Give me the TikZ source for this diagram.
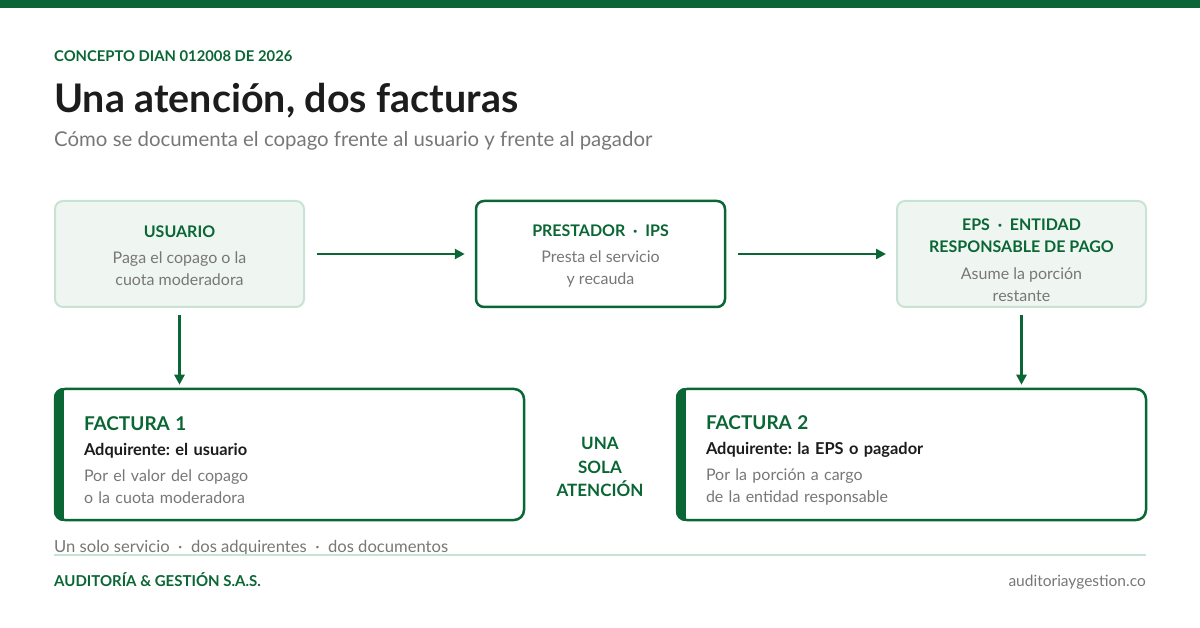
\documentclass[tikz,border=0pt]{standalone}
\usepackage{fontspec}
\setmainfont{Lato}
\usetikzlibrary{positioning, arrows.meta, calc}
\definecolor{verde}{HTML}{0A6634}
\definecolor{gris}{HTML}{777777}
\definecolor{menta}{HTML}{EFF6F2}
\definecolor{bordemint}{HTML}{C8E3D3}
\definecolor{tinta}{HTML}{1C1C1C}
\frenchspacing

\begin{document}
\begin{tikzpicture}[x=1pt, y=-1pt,
      actor/.style={draw=bordemint, line width=2pt, rounded corners=8pt,
        fill=menta, text=gris, align=center, inner sep=0pt,
        font=\fontsize{16}{22}\selectfont,
        minimum width=249pt, minimum height=106pt},
      prestador/.style={actor, draw=verde, line width=2.5pt, fill=white},
      factura/.style={draw=verde, line width=2.5pt, rounded corners=10pt,
        fill=white, text=gris, align=left, inner xsep=29pt, inner ysep=0pt,
        font=\fontsize{16}{22}\selectfont, text width=411pt,
        minimum width=469pt, minimum height=131pt},
      cabeza/.style={font=\fontsize{16}{22}\selectfont\bfseries, text=verde},
      flecha/.style={-{Triangle[length=10pt, width=10pt]}, verde, line width=2.5pt}]
    \useasboundingbox (0,0) rectangle (1200,628);
    \fill[verde] (0,0) rectangle (1200,8);

    % encabezado
    \node[anchor=base west, inner sep=0pt, cabeza,
      font=\fontsize{14.8}{20}\selectfont\bfseries] (concepto) at (54,62)
      {CONCEPTO DIAN 012008 DE 2026};
    \node[anchor=base west, inner sep=0pt, text=tinta,
      font=\fontsize{39.4}{44}\selectfont\bfseries] (titulo) at (54,113)
      {Una atención, dos facturas};
    \node[anchor=base west, inner sep=0pt, text=gris,
      font=\fontsize{20.4}{24}\selectfont] (subtitulo) at (54,147)
      {Cómo se documenta el copago frente al usuario y frente al pagador};

    % actores
    \node[actor] (usuario) at (179.5,254)
      {\rule{0pt}{16pt}\textbf{\color{verde}USUARIO}\\[4pt]Paga el copago o la\\cuota moderadora};
    \node[prestador] (ips) at (600.5,254)
      {\rule{0pt}{16pt}\textbf{\color{verde}PRESTADOR\ \ ·\ \ IPS}\\[4pt]Presta el servicio\\y recauda};
    \node[actor] (eps) at (1021.5,254)
      {\rule{0pt}{24pt}\textbf{\color{verde}EPS\ \ ·\ \ ENTIDAD}\\\textbf{\color{verde}RESPONSABLE DE PAGO}\\[5pt]Asume la porción\\restante};

    % facturas
    \node[factura] (f1) at (289.5,454.5)
      {\rule{0pt}{25pt}{\fontsize{19}{24}\selectfont\bfseries\color{verde}FACTURA 1}\\[3pt]
       {\fontsize{16.4}{22}\selectfont\bfseries\color{tinta}Adquirente: el usuario}\\[4pt]
       Por el valor del copago\\o la cuota moderadora};
    \node[factura] (f2) at (911.5,454.5)
      {\rule{0pt}{25pt}{\fontsize{19}{24}\selectfont\bfseries\color{verde}FACTURA 2}\\[3pt]
       {\fontsize{16.4}{22}\selectfont\bfseries\color{tinta}Adquirente: la EPS o pagador}\\[4pt]
       Por la porción a cargo\\de la entidad responsable};
    \foreach \f in {f1, f2} {
      \begin{scope}
        \clip[rounded corners=10pt] (\f.south west) rectangle (\f.north east);
        \fill[verde] (\f.south west) rectangle ([xshift=10pt]\f.north west);
      \end{scope}
    }
    \node[cabeza, font=\fontsize{17}{23.5}\selectfont\bfseries, align=center]
      (sola) at (600,467) {UNA\\SOLA\\ATENCIÓN};

    \draw[flecha, shorten <=12pt, shorten >=10pt] (usuario) -- (ips);
    \draw[flecha, shorten <=12pt, shorten >=10pt] (ips) -- (eps);
    \draw[flecha, shorten <=7pt, shorten >=3pt] (usuario.south) -- (usuario.south |- f1.north);
    \draw[flecha, shorten <=7pt, shorten >=3pt] (eps.south) -- (eps.south |- f2.north);

    % pie
    \node[anchor=base west, inner sep=0pt, text=gris,
      font=\fontsize{16.6}{20}\selectfont] (resumen) at (54,552)
      {Un solo servicio\ \ ·\ \ dos adquirentes\ \ ·\ \ dos documentos};
    \draw[bordemint, line width=2pt] (54,555) -- (1146,555);
    \node[anchor=base west, inner sep=0pt, cabeza,
      font=\fontsize{15}{20}\selectfont\bfseries] (firma) at (54,586)
      {AUDITORÍA \& GESTIÓN S.A.S.};
    \node[anchor=base east, inner sep=0pt, text=gris,
      font=\fontsize{15.5}{20}\selectfont] (web) at (1146,586)
      {auditoriaygestion.co};
  \end{tikzpicture}
\end{document}
